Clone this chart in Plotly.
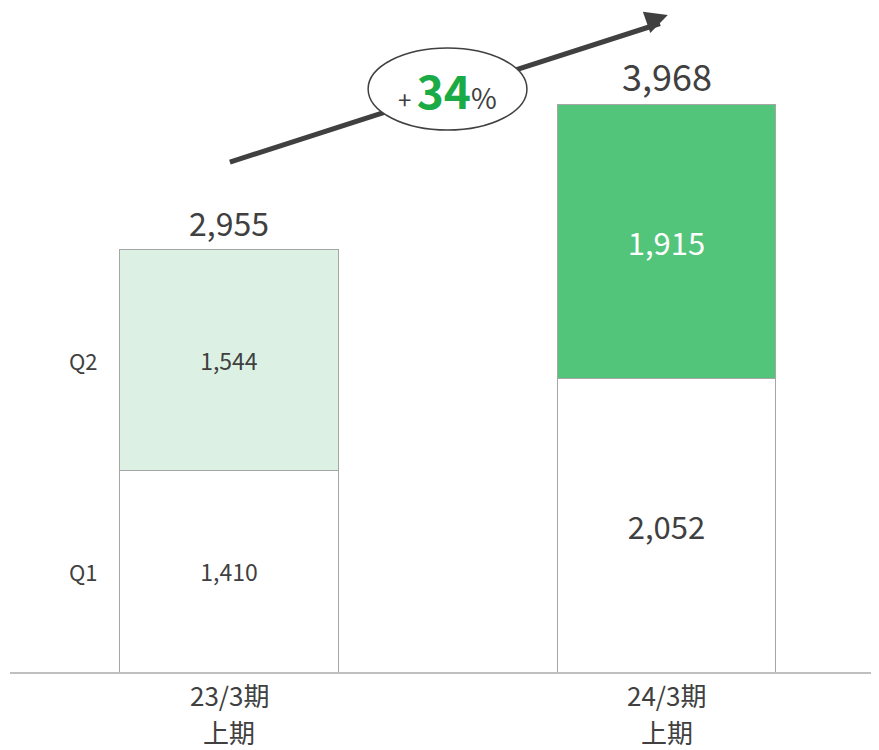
import plotly.graph_objects as go

periods = [0, 1]
period_line1 = ["23/3期", "24/3期"]
period_line2 = ["上期", "上期"]
q1 = [1410, 2052]
q2 = [1544, 1915]
totals = [2955, 3968]
growth_pct = 34

FONT = "Noto Sans CJK JP"
DARK = "#404040"
EDGE = "#a6a6a6"

fig = go.Figure()
fig.add_trace(go.Bar(
    x=periods, y=q1, width=0.5,
    marker=dict(color="white", line=dict(color=EDGE, width=1)),
    text=[f"{v:,}" for v in q1], textposition="inside", insidetextanchor="middle",
    textangle=0, constraintext="none",
    textfont=dict(family=FONT, size=[23, 31], color=[DARK, DARK]),
))
fig.add_trace(go.Bar(
    x=periods, y=q2, width=0.5,
    marker=dict(color=["#dcf1e4", "#52c57a"], line=dict(color=EDGE, width=1)),
    text=[f"{v:,}" for v in q2], textposition="inside", insidetextanchor="middle",
    textangle=0, constraintext="none",
    textfont=dict(family=FONT, size=[23, 31], color=[DARK, "white"]),
))

# totals above bars
for x, t, sz in zip(periods, totals, [32, 36]):
    fig.add_annotation(x=x, y=t, text=f"{t:,}", showarrow=False, yanchor="bottom",
                       yshift=2, font=dict(family=FONT, size=sz, color=DARK))

# segment names on the left
fig.add_annotation(x=-0.295, y=q1[0] / 2, text="Q1", showarrow=False, xanchor="right",
                   font=dict(family=FONT, size=22, color=DARK))
fig.add_annotation(x=-0.295, y=q1[0] + q2[0] / 2, text="Q2", showarrow=False, xanchor="right",
                   font=dict(family=FONT, size=22, color=DARK))

# period labels (two lines, below the axis)
for x, a, b in zip(periods, period_line1, period_line2):
    fig.add_annotation(x=x, y=-0.0346, xref="x", yref="paper", yanchor="middle",
                       text=a, showarrow=False, borderpad=0,
                       font=dict(family=FONT, size=26, color=DARK))
    fig.add_annotation(x=x, y=-0.0889, xref="x", yref="paper", yanchor="middle",
                       text=b, showarrow=False, borderpad=0,
                       font=dict(family=FONT, size=26, color=DARK))

# growth arrow: shaft, then ellipse on top, then head
fig.add_shape(type="line", xref="x", yref="y", x0=0.002, y0=3566, x1=0.985, y1=4535,
              line=dict(color=DARK, width=5))
fig.add_shape(type="circle", xref="x", yref="y", x0=0.318, x1=0.681, y0=3790, y1=4364,
              fillcolor="white", line=dict(color=DARK, width=1.5))
fig.add_annotation(x=1.003, y=4594, ax=0.96, ay=4548, xref="x", yref="y",
                   axref="x", ayref="y", text="", showarrow=True,
                   arrowhead=2, arrowsize=0.9, arrowwidth=5, arrowcolor=DARK)
fig.add_annotation(x=0.4995, y=4077, xref="x", yref="y", showarrow=False,
                   text=(f"<span style='font-size:24px;color:{DARK}'>+ </span>"
                         f"<b><span style='font-size:46px;color:#1aab46'>{growth_pct}</span></b>"
                         f"<span style='font-size:28px;color:{DARK}'>%</span>"),
                   font=dict(family=FONT, size=24, color=DARK))

fig.update_layout(
    width=879, height=750, barmode="stack", showlegend=False,
    margin=dict(l=2, r=0, t=0, b=86),
    paper_bgcolor="white", plot_bgcolor="white",
    font=dict(family=FONT, color=DARK),
)
fig.update_xaxes(range=[-0.5006, 1.504], showticklabels=False,
                 showline=True, linecolor="#bfbfbf", linewidth=2, ticks="",
                 showgrid=False, zeroline=False, fixedrange=True)
fig.update_yaxes(range=[0, 664 / 0.143], visible=False, showgrid=False, zeroline=False)

fig.write_html("out.html")
